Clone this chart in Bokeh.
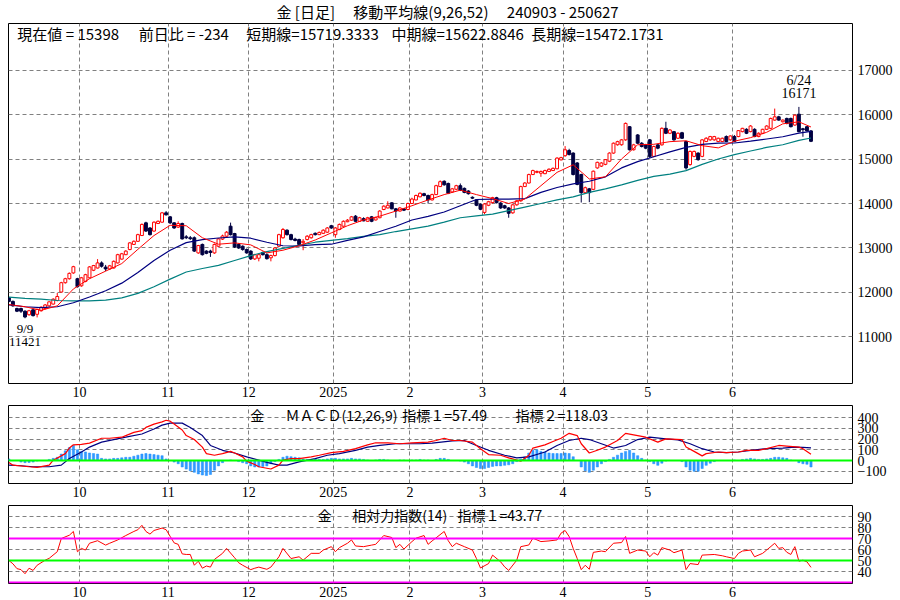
import numpy as np
from bokeh.plotting import figure
from bokeh.layouts import column
from bokeh.models import Range1d, FixedTicker, Span, Title
from bokeh.core.properties import value
from bokeh.embed import file_html
from bokeh.resources import INLINE

# ---------------- data ----------------
TRADING_DAYS = [
    (2024, 9, [3, 4, 5, 6, 9, 10, 11, 12, 13, 17, 18, 19, 20, 24, 25, 26, 27, 30]),
    (2024, 10, [1, 2, 3, 4, 7, 8, 9, 10, 11, 15, 16, 17, 18, 21, 22, 23, 24, 25, 28, 29, 30, 31]),
    (2024, 11, [1, 5, 6, 7, 8, 11, 12, 13, 14, 15, 18, 19, 20, 21, 22, 25, 26, 27, 28, 29]),
    (2024, 12, [2, 3, 4, 5, 6, 9, 10, 11, 12, 13, 16, 17, 18, 19, 20, 23, 24, 25, 26, 27, 30]),
    (2025, 1, [6, 7, 8, 9, 10, 14, 15, 16, 17, 20, 21, 22, 23, 24, 27, 28, 29, 30, 31]),
    (2025, 2, [3, 4, 5, 6, 7, 10, 12, 13, 14, 17, 18, 19, 20, 21, 25, 26, 27, 28]),
    (2025, 3, [3, 4, 5, 6, 7, 10, 11, 12, 13, 14, 17, 18, 19, 21, 24, 25, 26, 27, 28, 31]),
    (2025, 4, [1, 2, 3, 4, 7, 8, 9, 10, 11, 14, 15, 16, 17, 18, 21, 22, 23, 24, 25, 28, 30]),
    (2025, 5, [1, 2, 6, 7, 8, 9, 12, 13, 14, 15, 16, 19, 20, 21, 22, 23, 26, 27, 28, 29, 30]),
    (2025, 6, [2, 3, 4, 5, 6, 9, 10, 11, 12, 13, 16, 17, 18, 19, 20, 23, 24, 25, 26, 27]),
]

OPEN = [11880, 11800, 11640, 11640, 11580, 11500, 11610, 11510, 11590, 11640,
        11700, 11740, 11820, 12010, 12220, 12310, 12440, 12310, 12150, 12250,
        12330, 12500, 12550, 12665, 12570, 12530, 12550, 12665, 12750, 12850,
        12965, 13080, 13150, 13280, 13565, 13450, 13380, 13550, 13580, 13790,
        13700, 13565, 13470, 13550, 13250, 13230, 13230, 12890, 13080, 12930,
        12930, 12890, 13040, 13200, 13265, 13490, 13325, 13080, 13040, 12965,
        12930, 12755, 12770, 12900, 12850, 12780, 12830, 13040, 13230, 13400,
        13300, 13200, 13190, 13120, 13190, 13230, 13330, 13300, 13330, 13355,
        13500, 13300, 13415, 13490, 13590, 13625, 13715, 13600, 13660, 13600,
        13700, 13630, 13680, 13865, 13900, 14015, 13880, 13830, 13880, 13865,
        14000, 14080, 14150, 14220, 14180, 14080, 14200, 14380, 14500, 14450,
        14260, 14320, 14400, 14340, 14280, 14140, 14080, 13980, 13800, 13960,
        14020, 14130, 14010, 13950, 13900, 13790, 13970, 14060, 14380, 14460,
        14650, 14700, 14680, 14670, 14720, 14740, 14780, 14980, 15074, 15190,
        15133, 14911, 14651, 14244, 14330, 14318, 14800, 14840, 14880, 14950,
        15133, 15320, 15320, 15430, 15726, 15207, 15541, 15355, 15318, 15430,
        15059, 15318, 15318, 15689, 15578, 15615, 15466, 15590, 15392, 14874,
        15059, 15133, 15059, 15392, 15430, 15430, 15392, 15392, 15504, 15430,
        15504, 15504, 15615, 15667, 15615, 15667, 15504, 15578, 15667, 15689,
        15874, 15948, 15837, 15911, 15911, 15763, 16007, 15680, 15726, 15632]
HIGH = [11900, 11820, 11660, 11660, 11600, 11610, 11630, 11640, 11690, 11740,
        11800, 11870, 11990, 12240, 12330, 12450, 12600, 12330, 12350, 12420,
        12590, 12620, 12750, 12700, 12620, 12620, 12720, 12870, 12890, 12950,
        13130, 13170, 13320, 13550, 13590, 13470, 13600, 13620, 13810, 13830,
        13720, 13580, 13600, 13570, 13290, 13270, 13260, 13070, 13100, 12950,
        12960, 13100, 13220, 13300, 13380, 13570, 13340, 13100, 13060, 12990,
        12950, 12870, 12880, 12920, 12880, 12850, 13020, 13320, 13450, 13420,
        13320, 13230, 13210, 13200, 13290, 13320, 13350, 13370, 13420, 13470,
        13520, 13470, 13550, 13620, 13650, 13720, 13740, 13700, 13690, 13700,
        13720, 13700, 13850, 13960, 14050, 14030, 13900, 13920, 13900, 14020,
        14130, 14200, 14250, 14240, 14200, 14220, 14420, 14520, 14520, 14470,
        14350, 14420, 14450, 14360, 14300, 14160, 14100, 14000, 14010, 14060,
        14150, 14150, 14030, 13970, 13920, 13990, 14080, 14400, 14480, 14670,
        14760, 14740, 14740, 14760, 14790, 14810, 15040, 15050, 15290, 15230,
        15150, 14930, 14670, 14380, 14350, 14740, 14940, 14930, 15000, 15150,
        15370, 15410, 15450, 15820, 15740, 15340, 15560, 15380, 15340, 15450,
        15300, 15340, 15710, 15837, 15670, 15630, 15600, 15610, 15410, 15190,
        15190, 15150, 15450, 15490, 15520, 15520, 15480, 15480, 15530, 15530,
        15540, 15650, 15700, 15690, 15760, 15690, 15600, 15680, 15760, 15930,
        16133, 15970, 15890, 15930, 15930, 16000, 16171, 15700, 15740, 15650]
LOW = [11780, 11680, 11560, 11540, 11421, 11480, 11460, 11440, 11570, 11620,
       11680, 11730, 11800, 12000, 12200, 12290, 12420, 12110, 12130, 12230,
       12320, 12480, 12540, 12560, 12480, 12510, 12540, 12650, 12740, 12840,
       12950, 13070, 13140, 13270, 13360, 13280, 13370, 13540, 13570, 13730,
       13540, 13430, 13450, 13190, 13200, 13180, 12910, 12870, 12830, 12860,
       12800, 12870, 13020, 13180, 13250, 13280, 13000, 12980, 12940, 12870,
       12730, 12730, 12700, 12830, 12740, 12700, 12810, 13020, 13210, 13280,
       13170, 13150, 13060, 12950, 13170, 13210, 13280, 13290, 13320, 13340,
       13430, 13230, 13400, 13480, 13580, 13610, 13590, 13590, 13600, 13590,
       13580, 13620, 13670, 13850, 13890, 13870, 13680, 13820, 13830, 13850,
       13990, 14070, 14140, 14160, 14000, 14070, 14190, 14370, 14400, 14210,
       14240, 14300, 14280, 14230, 14200, 14100, 13940, 13850, 13760, 13940,
       14000, 14000, 13880, 13880, 13680, 13770, 13950, 14040, 14370, 14450,
       14640, 14680, 14600, 14660, 14710, 14730, 14770, 14970, 15050, 15080,
       14630, 14410, 14022, 14220, 14030, 14300, 14780, 14820, 14860, 14930,
       15120, 15300, 15300, 15410, 15190, 15190, 15340, 15260, 15220, 15020,
       15040, 15220, 15300, 15560, 15560, 15410, 15450, 15450, 14760, 14850,
       15040, 14960, 15040, 15380, 15410, 15410, 15380, 15380, 15380, 15410,
       15380, 15490, 15600, 15560, 15600, 15490, 15490, 15560, 15650, 15670,
       15860, 15860, 15820, 15780, 15710, 15750, 15600, 15500, 15620, 15380]
CLOSE = [11800, 11700, 11580, 11580, 11450, 11590, 11480, 11620, 11670, 11720,
         11790, 11850, 11910, 12220, 12310, 12430, 12580, 12130, 12330, 12400,
         12575, 12605, 12665, 12590, 12530, 12600, 12700, 12850, 12870, 12930,
         13115, 13150, 13300, 13530, 13380, 13300, 13580, 13600, 13790, 13745,
         13565, 13450, 13550, 13205, 13230, 13210, 12930, 13055, 12850, 12880,
         12900, 13080, 13205, 13270, 13355, 13300, 13025, 13000, 12965, 12890,
         12755, 12850, 12850, 12850, 12760, 12830, 13000, 13300, 13415, 13300,
         13190, 13170, 13080, 13150, 13265, 13300, 13300, 13350, 13400, 13450,
         13450, 13450, 13530, 13600, 13625, 13700, 13600, 13680, 13610, 13680,
         13600, 13680, 13830, 13940, 13960, 13880, 13830, 13900, 13850, 14000,
         14100, 14180, 14230, 14180, 14080, 14200, 14400, 14490, 14420, 14230,
         14330, 14400, 14300, 14250, 14220, 14120, 13960, 13870, 13990, 14040,
         14130, 14020, 13900, 13900, 13780, 13970, 14060, 14380, 14460, 14650,
         14740, 14720, 14720, 14740, 14770, 14790, 15020, 15030, 15207, 15100,
         14651, 14429, 14244, 14355, 14244, 14726, 14925, 14910, 14985, 15133,
         15355, 15390, 15430, 15800, 15207, 15318, 15355, 15281, 15244, 15059,
         15281, 15244, 15689, 15578, 15652, 15430, 15578, 15466, 14800, 15170,
         15170, 14985, 15430, 15466, 15504, 15504, 15466, 15466, 15392, 15518,
         15392, 15637, 15689, 15578, 15741, 15504, 15578, 15667, 15741, 15911,
         15948, 15874, 15874, 15800, 15726, 15985, 15615, 15660, 15632, 15398]

# moving averages read every 4 trading days (plus the last day)
MA_DAY = list(range(0, 200, 4)) + [199]
MA9 = [11730, 11680, 11600, 11700, 12080, 12310, 12480, 12650, 12970, 13280,
       13510, 13500, 13230, 13085, 13115, 13070, 12890, 12950, 13050, 13180,
       13340, 13500, 13630, 13715, 13830, 13950, 14080, 14200, 14300, 14200,
       14110, 14000, 14100, 14400, 14700, 14870, 14550, 14600, 15000, 15320,
       15330, 15390, 15410, 15300, 15250, 15400, 15480, 15600, 15790, 15835,
       15719.3333]
MA26 = [11720, 11680, 11660, 11680, 11770, 11900, 12040, 12210, 12450, 12720,
        12950, 13120, 13190, 13225, 13250, 13220, 13130, 13050, 13045, 13075,
        13085, 13170, 13250, 13370, 13490, 13630, 13710, 13810, 13950, 14090,
        14100, 14100, 14110, 14250, 14360, 14440, 14500, 14600, 14800, 14940,
        15050, 15160, 15260, 15330, 15355, 15360, 15400, 15450, 15500, 15580,
        15622.8846]
MA52 = [11895, 11870, 11850, 11820, 11810, 11810, 11830, 11880, 11980, 12130,
        12300, 12460, 12540, 12610, 12720, 12830, 12920, 12990, 13060, 13130,
        13170, 13210, 13260, 13300, 13370, 13430, 13490, 13580, 13680, 13720,
        13760, 13840, 13920, 14000, 14080, 14150, 14250, 14330, 14420, 14520,
        14610, 14660, 14740, 14880, 15000, 15100, 15180, 15260, 15320, 15420,
        15472.1731]

MACD_DAY = [0, 1, 5, 7, 10, 11, 14, 15, 16, 18, 20, 23, 25, 28, 29, 31, 33, 34, 36, 38,
            39, 40, 41, 43, 44, 46, 48, 49, 51, 53, 55, 56, 58, 59, 61, 62, 65, 67, 68, 70,
            72, 75, 77, 80, 83, 86, 89, 91, 94, 97, 100, 104, 106, 108, 110, 112, 115, 117, 119, 122,
            124, 127, 129, 130, 133, 135, 137, 139, 141, 142, 144, 146, 148, 151, 153, 156, 158, 161, 163, 167,
            168, 170, 172, 173, 176, 178, 181, 183, 186, 188, 191, 193, 196, 197, 199]
MACD_VAL = [-18, -43, -58, -64, -43, 3, 64, 116, 146, 150, 162, 207, 207, 217, 232, 262, 278, 308, 339, 360,
            375, 366, 339, 284, 232, 195, 125, 64, 49, 64, 85, 70, 34, -6, -37, -58, -79, -43, 3, 18,
            18, 34, 49, 73, 85, 110, 146, 165, 165, 156, 165, 171, 186, 207, 186, 186, 171, 110, 55, 49,
            24, -6, 49, 116, 146, 177, 207, 253, 232, 156, 70, 95, 125, 186, 253, 232, 217, 171, 201, 195,
            125, 85, 43, 64, 79, 73, 79, 95, 95, 110, 140, 134, 125, 110, 57.49]
SIG_DAY = [0, 3, 6, 10, 13, 15, 18, 20, 23, 26, 29, 33, 36, 38, 40, 43, 45, 48, 50, 53,
           56, 59, 62, 64, 67, 69, 72, 76, 79, 82, 86, 89, 92, 96, 99, 102, 105, 110, 113, 116,
           119, 123, 126, 129, 133, 136, 139, 142, 144, 147, 150, 153, 156, 159, 163, 166, 169, 172, 175, 178,
           181, 184, 188, 192, 195, 197, 199]
SIG_VAL = [-43, -49, -58, -58, -43, 18, 79, 125, 171, 195, 217, 247, 293, 329, 348, 348, 308, 232, 140, 95,
           70, 34, 3, -18, -43, -43, -12, 18, 49, 64, 95, 125, 140, 156, 156, 156, 162, 182, 186, 140,
           95, 49, 24, 34, 79, 140, 186, 207, 195, 156, 116, 140, 195, 217, 201, 192, 156, 110, 79, 73,
           79, 95, 110, 116, 125, 122, 118.03]
HIST = [15, 0, 0, -15, -20, -18, -15, -5, 0, 0,
        10, 20, 30, 60, 90, 120, 140, 100, 85, 80,
        70, 65, 60, 20, 15, 15, 20, 20, 25, 30,
        30, 40, 50, 60, 65, 60, 55, 50, 45, 15,
        0, -15, -30, -60, -80, -95, -110, -125, -135, -140,
        -130, -90, -50, -20, 0, 5, 0, -10, -20, -30,
        -50, -60, -60, -55, -50, -30, -10, 10, 30, 40,
        35, 30, 25, 15, 10, 10, 15, 10, 10, 15,
        20, 20, 15, 15, 15, 20, 15, 15, 10, 5,
        0, 5, 10, 10, 5, 0, 0, 5, 5, 0,
        5, 5, 10, 5, 5, 0, 10, 20, 20, 10,
        0, 0, -5, -15, -30, -50, -65, -75, -75, -65,
        -55, -50, -50, -45, -40, -30, -10, 15, 35, 70,
        95, 100, 85, 80, 70, 65, 65, 65, 70, 65,
        35, 0, -60, -95, -110, -90, -60, -30, -10, 10,
        30, 50, 70, 85, 95, 70, 45, 20, 5, -10,
        -30, -45, -25, -5, 0, 0, 0, -10, -60, -90,
        -100, -100, -75, -45, -25, -10, 0, 0, 0, 0,
        5, 0, 10, 15, 20, 15, 10, 10, 15, 20,
        30, 30, 25, 20, 5, 0, -20, -30, -35, -60.54]

RSI_DAY = [0, 1, 2, 3, 4, 5, 6, 7, 9, 10, 12, 13, 15, 16, 17, 18, 19, 20, 22, 24,
           25, 27, 29, 31, 32, 33, 34, 35, 36, 38, 39, 40, 41, 42, 43, 44, 45, 46, 47, 48,
           49, 50, 51, 53, 54, 56, 57, 58, 60, 61, 62, 64, 65, 67, 68, 70, 72, 73, 75, 77,
           78, 80, 81, 82, 84, 85, 86, 88, 90, 91, 93, 95, 96, 97, 98, 100, 101, 103, 104, 105,
           108, 109, 110, 111, 113, 115, 116, 117, 119, 120, 122, 123, 124, 126, 127, 129, 130, 132, 134, 136,
           137, 138, 139, 140, 141, 142, 143, 144, 145, 147, 148, 150, 152, 153, 154, 156, 158, 159, 160, 161,
           162, 164, 165, 167, 168, 169, 171, 172, 175, 177, 178, 180, 181, 182, 184, 185, 187, 188, 190, 191,
           192, 193, 194, 195, 196, 197, 198, 199]
RSI_VAL = [50, 47, 42.6, 41.7, 38, 43, 41, 45.7, 50.3, 52, 58, 70, 73, 76.4, 58, 61, 59.5, 65.7, 68, 64,
           65.7, 68.7, 72.7, 76.4, 78, 82, 76.4, 74, 77.3, 79.5, 78, 72, 66, 64.7, 56, 55.5, 55.5, 45.7, 49.4, 43,
           45, 44, 51, 56.5, 61, 52.5, 48, 45.7, 41.7, 43, 44, 42, 44, 53.4, 61, 51.8, 53.4, 50.3, 56.5, 56.5,
           59.5, 62.6, 58, 61.7, 65.7, 68.7, 63.2, 62.6, 64, 64.7, 72.7, 70.9, 61.7, 64.7, 60.4, 67.2, 70.3, 72.7, 64.7, 67.8,
           76.4, 68, 62.6, 65.7, 62.6, 59.5, 51.8, 43.2, 47.2, 54.9, 48.8, 44.2, 41, 50.3, 62.6, 64.1, 70.3, 67.2, 67.8, 68.7,
           74.9, 77.3, 71.8, 61, 51.8, 41.7, 45.7, 42, 57.4, 58.6, 58, 65.7, 66.3, 71.8, 56.5, 59.5, 58.6, 53.4, 57.1, 54.9,
           61.7, 59.5, 57.1, 59.5, 41.7, 47.2, 46.3, 54.9, 55.5, 54.3, 53.4, 51.8, 56.5, 58.6, 59.5, 53.4, 56.5, 59.5, 65.7, 61,
           61.7, 57.5, 55.5, 62.6, 49.4, 50.3, 48.8, 43.77]

PRICE_TICKS = [11000, 12000, 13000, 14000, 15000, 16000, 17000]
MACD_TICKS = [-100, 0, 100, 200, 300, 400]
RSI_TICKS = [40, 50, 60, 70, 80, 90]

# ---------------- derived ----------------
DATES = [(y, m, d) for (y, m, ds) in TRADING_DAYS for d in ds]
N = len(DATES)
idx = np.arange(N)
month_start = [i for i in range(1, N) if DATES[i][1] != DATES[i - 1][1]]
grid_pos = [i - 0.5 for i in month_start]
month_lbl = {g: (str(DATES[i][0]) if DATES[i][1] == 1 else str(DATES[i][1]))
             for g, i in zip(grid_pos, month_start)}

RED = "#ff0000"
NAVY = "#000040"
MA_NAVY = "#000080"
TEAL = "#008080"
GRID = "#808080"
JP = "Noto Sans CJK JP"
SERIF = "Liberation Serif"

xr = Range1d(-0.1, 209.3)


def make_fig(frame_h, top, y0, y1, yticks, ygrid):
    p = figure(frame_width=844, frame_height=frame_h, x_range=xr, y_range=Range1d(y0, y1),
               output_backend="svg", toolbar_location=None, y_axis_location="right",
               min_border_left=8, min_border_right=36, min_border_top=top, min_border_bottom=20,
               background_fill_color="white", border_fill_color="white")
    p.outline_line_color = "black"
    p.outline_line_width = 1
    p.outline_line_alpha = 1.0
    xa = p.xaxis[0]
    xa.ticker = FixedTicker(ticks=grid_pos)
    xa.major_label_overrides = month_lbl
    xa.major_label_text_align = "left"
    xa.major_label_standoff = 3
    xa.major_tick_out = 0
    xa.major_tick_in = 0
    xa.major_label_text_font = SERIF
    xa.major_label_text_font_size = "14px"
    xa.major_label_text_color = "black"
    xa.axis_line_color = None
    xa.major_tick_line_color = None
    xa.minor_tick_line_color = None
    ya = p.yaxis[0]
    ya.ticker = FixedTicker(ticks=yticks)
    ya.major_label_standoff = 5
    ya.major_tick_out = 0
    ya.major_tick_in = 0
    ya.major_label_text_font = SERIF
    ya.major_label_text_font_size = "14px"
    ya.major_label_text_color = "black"
    ya.axis_line_color = None
    ya.major_tick_line_color = None
    ya.minor_tick_line_color = None
    p.xgrid.ticker = FixedTicker(ticks=grid_pos)
    p.ygrid.ticker = FixedTicker(ticks=ygrid)
    for g in (p.xgrid, p.ygrid):
        g.grid_line_color = GRID
        g.grid_line_dash = "4 3"
        g.grid_line_width = 1
    return p


# ---------------- main price panel ----------------
p1 = make_fig(360, 20, 9955, 18045, PRICE_TICKS, PRICE_TICKS)
start = "%02d%02d%02d" % (DATES[0][0] % 100, DATES[0][1], DATES[0][2])
end = "%02d%02d%02d" % (DATES[-1][0] % 100, DATES[-1][1], DATES[-1][2])
p1.add_layout(Title(text="金 [日足]　 移動平均線(9,26,52)　 %s - %s" % (start, end),
                    align="left", offset=268, standoff=0, vertical_align="top", text_font=JP,
                    text_font_size="15px", text_font_style="normal", text_color="black"), "above")

up = [c >= o for o, c in zip(OPEN, CLOSE)]
col = [RED if u else NAVY for u in up]
fill = ["white" if u else NAVY for u in up]
top = [max(o, c) for o, c in zip(OPEN, CLOSE)]
bot = [min(o, c) for o, c in zip(OPEN, CLOSE)]
p1.segment(x0=idx, y0=LOW, x1=idx, y1=HIGH, line_color=col, line_width=1)
p1.vbar(x=idx, width=0.72, top=top, bottom=bot, fill_color=fill, line_color=col, line_width=1)

p1.line(MA_DAY, MA52, line_color=TEAL, line_width=1.2)
p1.line(MA_DAY, MA26, line_color=MA_NAVY, line_width=1.2)
p1.line(MA_DAY, MA9, line_color=RED, line_width=1)

diff = CLOSE[-1] - CLOSE[-2]
info = ["現在値 = %d" % CLOSE[-1], "前日比 = %d" % diff,
        "短期線=%.4f" % MA9[-1], "中期線=%.4f" % MA26[-1], "長期線=%.4f" % MA52[-1]]
info_x = [2.1, 32.2, 58.9, 94.9, 129.6]
p1.text(x=info_x, y=[17820] * len(info), text=info, text_font=value(JP),
        text_font_size="15px", text_baseline="middle", text_align="left", text_color="black")

hi = int(np.argmax(HIGH))
lo = int(np.argmin(LOW))
p1.text(x=[hi, hi], y=[16764, 16472],
        text=["%d/%d" % (DATES[hi][1], DATES[hi][2]), "%d" % HIGH[hi]],
        text_font=value(SERIF), text_font_size="14px", text_align="center",
        text_baseline="middle", text_color="black")
p1.text(x=[lo, lo], y=[11191, 10877],
        text=["%d/%d" % (DATES[lo][1], DATES[lo][2]), "%d" % LOW[lo]],
        text_font=value(SERIF), text_font_size="13px", text_align="center",
        text_baseline="middle", text_color="black")

# ---------------- MACD panel ----------------
p2 = make_fig(78, 2, -214, 512, MACD_TICKS, [-100, 100, 200, 300, 400])
p2.add_layout(Span(location=0, dimension="width", line_color="#00ff00", line_width=2))
p2.vbar(x=idx, width=0.55, top=HIST, bottom=0, fill_color="#3399ff", line_color="#1e90ff", line_width=0.5)
p2.line(SIG_DAY, SIG_VAL, line_color=MA_NAVY, line_width=1.2)
p2.line(MACD_DAY, MACD_VAL, line_color=RED, line_width=1.2)
m_txt = ["金", "ＭＡＣＤ(12,26,9)", "指標１=%.2f" % MACD_VAL[-1], "指標２=%.2f" % SIG_VAL[-1]]
p2.text(x=[59.9, 68.6, 97.6, 125.7], y=[428] * 4, text=m_txt, text_font=value(JP),
        text_font_size="14px", text_baseline="middle", text_align="left", text_color="black")

# ---------------- RSI panel ----------------
p3 = make_fig(78, 2, 29.1, 100.0, RSI_TICKS, [40, 60, 80, 90])
for lvl, c in ((70, "#ff00ff"), (30, "#ff00ff"), (50, "#00ff00")):
    p3.add_layout(Span(location=lvl, dimension="width", line_color=c, line_width=2))
p3.line(RSI_DAY, RSI_VAL, line_color=RED, line_width=1)
r_txt = ["金", "相対力指数(14)", "指標１=%.2f" % RSI_VAL[-1]]
p3.text(x=[76.6, 85.2, 111.3], y=[91.2] * 3, text=r_txt, text_font=value(JP),
        text_font_size="14px", text_baseline="middle", text_align="left", text_color="black")

layout = column(p1, p2, p3, spacing=0)
open("out.html", "w").write(file_html(layout, INLINE))
